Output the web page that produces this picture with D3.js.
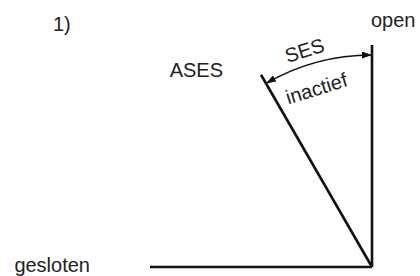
<!DOCTYPE html>
<html>
<head>
<meta charset="utf-8">
<script src="https://cdn.jsdelivr.net/npm/d3@7"></script>
<style>
  body { margin: 0; background: #fff; }
  text { font-family: "Liberation Sans", Arial, sans-serif; fill: #222; }
</style>
</head>
<body>
<script>
"use strict";

// Standen van de klep (graden vanaf verticaal, naar links)
var positions = ["open", "ASES", "gesloten"];
var angles = [0, 30, 90];
// Boog tussen open en ASES
var arcFrom = 0, arcTo = 30;
var arcLabels = ["SES", "inactief"];
var title = "1)";

var width = 420, height = 276;
var cx = 372, cy = 267;    // draaipunt
var armLen = 222, arcR = 212;

var svg = d3.select("body").append("svg")
  .attr("width", width)
  .attr("height", height);

// hoek in graden -> radialen
var rad = d3.scaleLinear().domain([0, 180]).range([0, Math.PI]);

function polar(a, r) {
  return [cx - r * Math.sin(rad(a)), cy - r * Math.cos(rad(a))];
}

var defs = svg.append("defs");
defs.append("marker")
  .attr("id", "pijl")
  .attr("viewBox", "0 0 10 7")
  .attr("refX", 10).attr("refY", 3.5)
  .attr("markerWidth", 10).attr("markerHeight", 7)
  .attr("markerUnits", "userSpaceOnUse")
  .attr("orient", "auto-start-reverse")
  .append("path")
    .attr("d", "M0,0 L10,3.5 L0,7 Z")
    .attr("fill", "#111");

// armen
svg.selectAll(".arm")
  .data(angles)
  .enter()
  .append("line")
  .attr("class", "arm")
  .attr("x1", cx).attr("y1", cy)
  .attr("x2", function(d){ return polar(d, armLen)[0]; })
  .attr("y2", function(d){ return polar(d, armLen)[1]; })
  .attr("stroke", "#111")
  .attr("stroke-width", 2.6)
  .attr("stroke-linecap", "butt");

// boog met pijlen
var p = d3.path();
p.arc(cx, cy, arcR, -Math.PI / 2 - rad(arcFrom), -Math.PI / 2 - rad(arcTo), true);
svg.append("path")
  .attr("d", p.toString())
  .attr("fill", "none")
  .attr("stroke", "#111")
  .attr("stroke-width", 1.3)
  .attr("marker-start", "url(#pijl)")
  .attr("marker-end", "url(#pijl)");

// labels van de standen
var labelOffsets = [
  { dx: -1, dy: -18, anchor: "start" },
  { dx: -38, dy: 2, anchor: "end" },
  { dx: -60, dy: 5, anchor: "end" }
];
svg.selectAll(".pos")
  .data(positions)
  .enter()
  .append("text")
  .attr("class", "pos")
  .attr("x", function(d, i){ return polar(angles[i], armLen)[0] + labelOffsets[i].dx; })
  .attr("y", function(d, i){ return polar(angles[i], armLen)[1] + labelOffsets[i].dy; })
  .attr("text-anchor", function(d, i){ return labelOffsets[i].anchor; })
  .style("font-size", "20px")
  .text(function(d){ return d; });

// labels langs de boog
var midA = 17.3;
var arcLabelR = [220, 180];
svg.selectAll(".arclab")
  .data(arcLabels)
  .enter()
  .append("text")
  .attr("class", "arclab")
  .attr("text-anchor", "middle")
  .attr("transform", function(d, i){
    var pt = polar(midA, arcLabelR[i]);
    return "translate(" + pt[0] + "," + pt[1] + ") rotate(" + (-midA) + ")";
  })
  .style("font-size", "20px")
  .text(function(d){ return d; });

svg.append("text")
  .attr("x", 53).attr("y", 31)
  .style("font-size", "20px")
  .text(title);
</script>
</body>
</html>
